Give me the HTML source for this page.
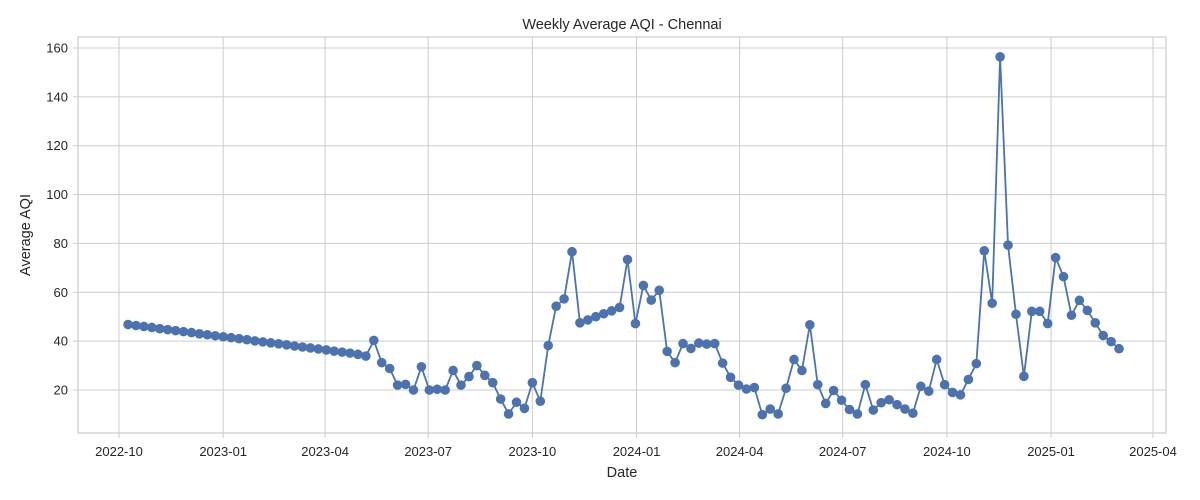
<!DOCTYPE html>
<html><head><meta charset="utf-8"><style>
body{margin:0;background:#fff}
svg{display:block;font-family:"Liberation Sans","DejaVu Sans",sans-serif}
</style></head><body>
<svg id="chart" width="1200" height="500"></svg>
<script>
const startDate = "2022-10-09";
const aqiValues = [46.8,46.4,46.0,45.6,45.1,44.7,44.3,43.9,43.5,43.0,42.6,42.2,41.8,41.4,41.0,40.6,40.1,39.7,39.3,38.9,38.5,38.0,37.6,37.2,36.8,36.4,35.9,35.5,35.1,34.6,33.9,
40.3,31.2,28.8,22,22.3,20,29.5,20,20.3,20,28,22,25.5,30,26,23,16.3,10.2,15,12.5,23,15.4,38.2,54.3,57.3,76.6,47.5,48.7,50,51.2,52.4,53.8,73.4,47.2,62.8,56.8,60.8,35.8,31.2,39,37,39.2,38.8,39,31,25.2,22,20.4,21,9.9,12.2,10.2,20.7,32.5,28,46.7,22.2,14.5,19.8,15.8,12,10.2,22.2,11.8,14.8,16,14,12.2,10.5,21.5,19.5,32.5,22.2,19,18,24.3,30.8,77,55.5,156.4,79.3,51,25.6,52.2,52.2,47.2,74.2,66.4,50.6,56.7,52.6,47.5,42.3,39.8,36.9];
const xTickLabels = ["2022-10","2023-01","2023-04","2023-07","2023-10","2024-01","2024-04","2024-07","2024-10","2025-01","2025-04"];
const yTickValues = [20,40,60,80,100,120,140,160];

const NS="http://www.w3.org/2000/svg";
const svg=document.getElementById('chart');
const L=78,R=1166,T=37,B=433;
const day=86400000;
const d0=Date.UTC(2022,9,1);
const pxPerDay=(1153-119)/913;
function x(t){return 119+(t-d0)/day*pxPerDay;}
const yMin=20-(433-390)/(342/140), yMax=20+(390-37)/(342/140);
function y(v){return B-(v-yMin)/(yMax-yMin)*(B-T);}
function el(tag,attrs,parent){const e=document.createElementNS(NS,tag);for(const k in attrs)e.setAttribute(k,attrs[k]);(parent||svg).appendChild(e);return e;}

const grid=el('g',{});


xTickLabels.forEach(lab=>{
  const [yy,mm]=lab.split('-').map(Number);
  const px=x(Date.UTC(yy,mm-1,1));
  el('line',{x1:px,x2:px,y1:T,y2:B,stroke:'#cccccc','stroke-width':1},grid);
  el('line',{x1:px,x2:px,y1:B,y2:B+5,stroke:'#cccccc','stroke-width':1},grid);
  const t=el('text',{x:px,y:B+23,'text-anchor':'middle','font-size':13,fill:'#262626'});
  t.textContent=lab;
  
  
});
yTickValues.forEach(v=>{
  const py=y(v);
  el('line',{x1:L,x2:R,y1:py,y2:py,stroke:'#cccccc','stroke-width':1},grid);
  el('line',{x1:L-5,x2:L,y1:py,y2:py,stroke:'#cccccc','stroke-width':1},grid);
  const t=el('text',{x:L-10,y:py+4.5,'text-anchor':'end','font-size':13,fill:'#262626'});
  t.textContent=v;
  
  
});
const frame=el('rect',{x:L,y:T,width:R-L,height:B-T,fill:'none',stroke:'#cccccc','stroke-width':1.2});



const s0=Date.UTC(2022,9,9);
const pts=aqiValues.map((v,i)=>[x(s0+i*7*day),y(v)]);
const line=el('polyline',{points:pts.map(p=>p.join(',')).join(' '),fill:'none',stroke:'#4c72b0','stroke-width':1.8});


pts.forEach(p=>{
  const c=el('circle',{cx:p[0],cy:p[1],r:4.8,fill:'#4c72b0'});
  
  
});

const title=el('text',{x:(L+R)/2,y:29,'text-anchor':'middle','font-size':14.5,fill:'#262626'});
title.textContent='Weekly Average AQI - Chennai';


const xl=el('text',{x:(L+R)/2,y:477,'text-anchor':'middle','font-size':14.5,fill:'#262626'});
xl.textContent='Date';


const yl=el('text',{x:0,y:0,'text-anchor':'middle','font-size':14.5,fill:'#262626',transform:`translate(30,${(T+B)/2}) rotate(-90)`});
yl.textContent='Average AQI';


</script>
</body></html>
